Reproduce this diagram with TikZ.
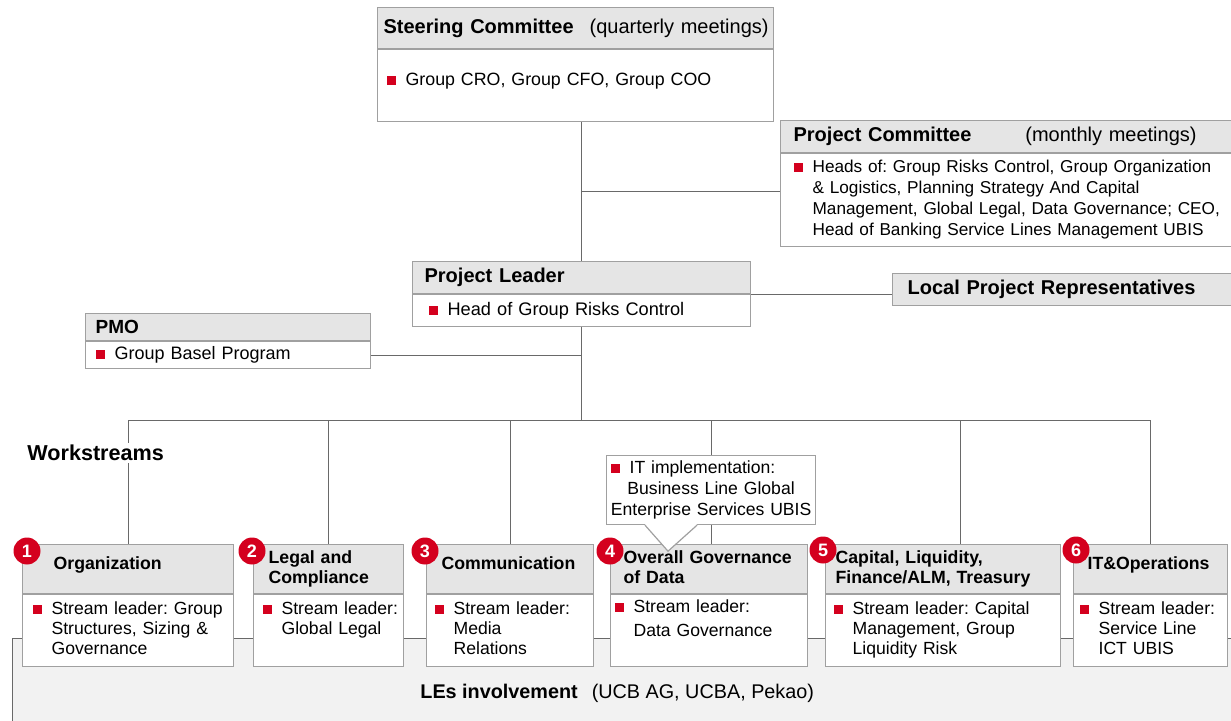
\documentclass[tikz,border=0pt]{standalone}
\usepackage{fontspec}
\setmainfont{Liberation Sans}
\usepackage{tikz}

\definecolor{ucred}{RGB}{212,0,30}
\definecolor{headgray}{RGB}{229,229,229}
\definecolor{boxline}{RGB}{160,160,160}
\definecolor{linkgray}{RGB}{105,105,105}
\definecolor{lesgray}{RGB}{242,242,242}

\frenchspacing
\newcommand\bul{\textcolor{ucred}{\rule[0.5pt]{4.5pt}{4.5pt}}\hspace{5pt}}
\newcommand\bitem[1]{\mbox{\bul\begin{tabular}[t]{@{}l@{}}#1\end{tabular}}}
\newcommand\hlines[1]{\begin{tabular}{@{}l@{}}#1\end{tabular}}
\newcommand\hone[1]{\raisebox{0pt}[0pt][0pt]{#1}}

\tikzset{
    hd/.style={draw=boxline, fill=headgray, line width=0.6pt, anchor=north west, inner ysep=0pt, align=left, font=\bfseries\fontsize{10}{12}\selectfont},
    bd/.style={draw=boxline, fill=white, line width=0.6pt, anchor=north west, inner ysep=0pt, align=left, font=\fontsize{8.8}{10}\selectfont},
    wsh/.style={hd, minimum height=24.5pt, font=\bfseries\fontsize{8.85}{10}\selectfont},
    wsb/.style={bd, minimum height=36pt},
    link/.style={draw=linkgray, line width=0.6pt},
    badge/.style={circle, fill=ucred, text=white, inner sep=0pt, minimum size=13.5pt, font=\bfseries\fontsize{9}{9}\selectfont},
}

\begin{document}
\begin{tikzpicture}[x=0.5pt,y=-0.5pt]
    \useasboundingbox (0,0) rectangle (1231,721);
    \clip (0,0) rectangle (1231,721);

    % legal entities band
    \node[draw=linkgray, fill=lesgray, line width=0.6pt, anchor=north west, minimum width=625pt, minimum height=55pt, inner sep=0pt] (les-bg) at (12,638) {};
    \node[anchor=west, inner sep=0pt, font=\fontsize{9.9}{12}\selectfont] (les) at (420,693) {\textbf{LEs involvement}\hspace{7pt}(UCB AG, UCBA, Pekao)};

    % committees and leader
    \node[hd, inner xsep=3pt, text width=192pt, minimum height=20.5pt] (sc-h) at (377,7) {\mbox{Steering Committee\hspace{8pt}\mdseries(quarterly meetings)}};
    \node[bd, inner xsep=4.5pt, text width=189pt, minimum height=36pt, font=\fontsize{8.9}{10.5}\selectfont] (sc-b) at (sc-h.south west) {\hone{\bul Group CRO, Group CFO, Group COO}};

    \node[hd, inner xsep=6.5pt, text width=220pt, minimum height=16pt] (pc-h) at (780,120) {Project Committee\hspace{27pt}\mdseries(monthly meetings)};
    \node[bd, inner xsep=6.5pt, text width=220pt, minimum height=46.5pt, font=\fontsize{8.6}{10.5}\selectfont] (pc-b) at (pc-h.south west) {\bitem{Heads of: Group Risks Control, Group Organization\\ \& Logistics, Planning Strategy And Capital\\ Management, Global Legal, Data Governance; CEO,\\ Head of Banking Service Lines Management UBIS}};

    \node[hd, inner xsep=6pt, text width=157pt, minimum height=16pt] (pl-h) at (412,261) {Project Leader};
    \node[bd, inner xsep=8pt, text width=153pt, minimum height=16pt, font=\fontsize{9.1}{11}\selectfont] (pl-b) at (pl-h.south west) {\bul Head of Group Risks Control};

    \node[hd, inner xsep=7.5pt, text width=160pt, minimum height=16pt] (lpr) at (892,273) {Local Project Representatives};

    \node[hd, inner xsep=5pt, text width=132.5pt, minimum height=13.5pt, font=\bfseries\fontsize{9.5}{11}\selectfont] (pmo-h) at (85,313) {PMO};
    \node[bd, inner xsep=5pt, text width=132.5pt, minimum height=13.5pt, font=\fontsize{9}{11}\selectfont] (pmo-b) at (pmo-h.south west) {\bul Group Basel Program};

    % workstreams
    \node[wsh, inner xsep=15.5pt, text width=74.5pt] (ws1h) at (22,544) {\hone{Organization}};
    \node[wsb, inner xsep=5pt, text width=95.5pt] (ws1b) at (ws1h.south west) {\bitem{Stream leader: Group\\Structures, Sizing \&\\Governance}};
    \node[wsh, inner xsep=7.5pt, text width=60pt] (ws2h) at (253,544) {\hlines{Legal and\\Compliance}};
    \node[wsb, inner xsep=4.5pt, text width=66pt] (ws2b) at (ws2h.south west) {\bitem{Stream leader:\\Global Legal\\{}}};
    \node[wsh, inner xsep=7.5pt, text width=68.5pt] (ws3h) at (426,544) {\hone{Communication}};
    \node[wsb, inner xsep=4pt, text width=75.5pt] (ws3b) at (ws3h.south west) {\bitem{Stream leader:\\Media\\Relations}};
    \node[wsh, inner xsep=6.5pt, text width=85.5pt] (ws4h) at (610,544) {\hlines{Overall Governance\\of Data}};
    \node[wsb, inner xsep=2pt, text width=94.5pt] (ws4b) at (ws4h.south west) {\bitem{Stream leader:\\[2pt]Data Governance\\{}}};
    \node[wsh, inner xsep=5pt, text width=107.5pt] (ws5h) at (825,544) {\hlines{Capital, Liquidity,\\Finance/ALM, Treasury}};
    \node[wsb, inner xsep=4pt, text width=109.5pt] (ws5b) at (ws5h.south west) {\bitem{Stream leader: Capital\\Management, Group\\Liquidity Risk}};
    \node[wsh, inner xsep=7pt, text width=63pt] (ws6h) at (1073,544) {\hone{IT\&Operations}};
    \node[wsb, inner xsep=3pt, text width=71pt] (ws6b) at (ws6h.south west) {\bitem{Stream leader:\\Service Line\\ICT UBIS}};

    \node[draw=boxline, fill=white, line width=0.6pt, anchor=north west, inner xsep=2pt, inner ysep=0pt, text width=100.5pt, minimum height=34.5pt, align=center, font=\fontsize{8.8}{10.5}\selectfont] (it) at (606,455) {\makebox[100.5pt][l]{\bul IT implementation:}\\Business Line Global\\Enterprise Services UBIS};
    \fill[white] ([xshift=19.5pt,yshift=0.5pt]it.south west) -- ([xshift=31pt,yshift=-13pt]it.south west) -- ([xshift=45.5pt,yshift=0.5pt]it.south west) -- cycle;
    \draw[boxline, line width=0.6pt] ([xshift=19.5pt]it.south west) -- ([xshift=31pt,yshift=-13pt]it.south west) -- ([xshift=45.5pt]it.south west);

    % connectors
    \draw[link] (sc-b.south -| pl-h.north) -- (pl-h.north);
    \coordinate (pcj) at ([yshift=4.25pt]pc-b.west);
    \draw[link] (pcj) -- (pcj -| pl-h.north);
    \draw[link] (pl-h.south east) -- (pl-h.south east -| lpr.west);
    \draw[link] (pmo-b.east) -- (pmo-b.east -| pl-b.south);
    \coordinate (bus) at ([yshift=-46.5pt]pl-b.south);
    \draw[link] (pl-b.south) -- (bus);
    \draw[link] (bus -| ws1h.north) -- (bus -| ws6h.north);
    \foreach \w in {ws1h,ws2h,ws3h,ws6h}
        \draw[link] (bus -| \w.north) -- (\w.north);
    \coordinate (ws5j) at ([xshift=8.75pt]ws5h.north);
    \draw[link] (bus -| ws5j) -- (ws5j);
    \draw[link] (bus -| it.north) -- (it.north);
    \draw[link] (it.south) -- (it.south |- ws4h.north);

    \node[anchor=west, fill=white, inner sep=1pt, font=\bfseries\fontsize{10.8}{13}\selectfont] (wsl) at (25,453) {Workstreams};

    % numbered badges
    \foreach \n/\bx/\by in {1/27/551, 2/252/551, 3/425/551, 4/610/551, 5/823/550, 6/1076/550}
        \node[badge] (n\n) at (\bx,\by) {\n};
\end{tikzpicture}
\end{document}
